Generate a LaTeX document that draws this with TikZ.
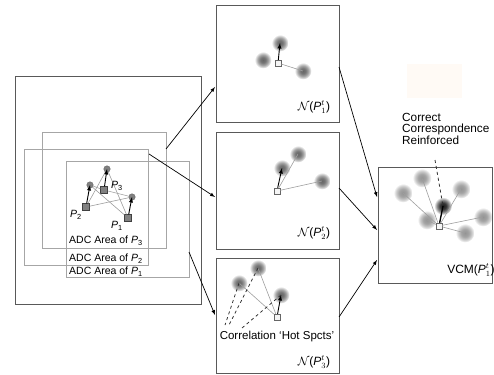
\documentclass[tikz,border=0pt]{standalone}
\usepackage{fontspec}
\setmainfont{Liberation Sans}
\usepackage{amsmath}
\usepackage{amssymb}
\usetikzlibrary{positioning}
\pgfdeclareradialshading{blobshade}{\pgfpoint{0bp}{0bp}}{color(0bp)=(black!60); color(8bp)=(black!54); color(16bp)=(black!34); color(25bp)=(white)}
\pgfdeclareradialshading{lightshade}{\pgfpoint{0bp}{0bp}}{color(0bp)=(black!42); color(10bp)=(black!36); color(18bp)=(black!20); color(25bp)=(white)}
\pgfdeclareradialshading{hotshade}{\pgfpoint{0bp}{0bp}}{color(0bp)=(black!90); color(9bp)=(black!78); color(17bp)=(black!45); color(25bp)=(white)}

\begin{document}
\begin{tikzpicture}[x=1pt,y=-1pt]
\tikzstyle{every node}+=[inner sep=0pt]
\tikzstyle{panel}=[draw=black!65, line width=0.9pt]
\tikzstyle{area}=[draw=black!35, line width=0.7pt]
\tikzstyle{blob}=[circle, minimum size=17pt, shading=blobshade, shade]
\tikzstyle{lightblob}=[circle, minimum size=19pt, shading=lightshade, shade]
\tikzstyle{hotblob}=[circle, minimum size=18pt, shading=hotshade, shade]
\tikzstyle{pt}=[rectangle, draw=black!75, fill=black!50, minimum size=7pt]
\tikzstyle{ft}=[circle, draw=black!60, fill=black!50, minimum size=6.5pt]
\tikzstyle{loc}=[rectangle, draw=black!60, fill=black!4, minimum size=6pt]
\tikzstyle{match}=[black, line width=0.9pt, -latex]
\tikzstyle{cand}=[black!38, line width=0.6pt]
\tikzstyle{hot}=[black!80, dashed, line width=0.8pt]
\tikzstyle{flow}=[black, line width=0.7pt, -latex]
\tikzstyle{lbl}=[font=\fontsize{10.5}{11.5}\selectfont]
\tikzstyle{biglbl}=[font=\fontsize{12}{11.5}\selectfont]
\useasboundingbox (0,0) rectangle (494,374);
\fill [orange!4] (407,64) rectangle (462,98);
% frame with the ADC areas
\draw [panel] (15,76) rectangle (201,304);
\draw [area] (42,132) rectangle (166,248);
\draw [area] (24,149) rectangle (148,265);
\draw [area] (66,161) rectangle (189,277);
\node [lbl, anchor=west] (a3) at (69,241) {ADC Area of \textit{P}\textsubscript{3}};
\node [lbl, anchor=west] (a2) at (69,259) {ADC Area of \textit{P}\textsubscript{2}};
\node [lbl, anchor=west] (a1) at (69,272) {ADC Area of \textit{P}\textsubscript{1}};
\node [ft] (c3) at (107,169) {};
\node [ft] (c2) at (90,185) {};
\node [ft] (c1) at (132,197) {};
\node [pt] (p3) at (104,190) {};
\node [pt] (p2) at (86,207) {};
\node [pt] (p1) at (128,218) {};
\draw [cand] (p3) -- (c2);
\draw [cand] (p3) -- (c1);
\draw [cand] (p2) -- (c3);
\draw [cand] (p2) -- (c1);
\draw [cand] (p1) -- (c3);
\draw [cand] (p1) -- (c2);
\draw [match] (p3) -- (c3.center);
\draw [match] (p2) -- (c2.center);
\draw [match] (p1) -- (c1.center);
\node [lbl] (l3) at (117,186) {\textit{P}\textsubscript{3}};
\node [lbl] (l2) at (76,215) {\textit{P}\textsubscript{2}};
\node [lbl] (l1) at (117,226) {\textit{P}\textsubscript{1}};
% neighbourhoods
\draw [panel] (216,5) rectangle (339,122);
\draw [panel] (216,132) rectangle (339,249);
\draw [panel] (216,258) rectangle (339,373);
\node [blob] (u1) at (280,43) {};
\node [blob] (u2) at (263,60) {};
\node [blob] (u3) at (303,71) {};
\node [loc] (s1) at (278,63) {};
\draw [cand] (s1) -- (u3.center);
\draw [match] (s1) -- (u1.center);
\node [biglbl] (n1) at (314,107) {$\mathcal{N}$(\textit{P}$^t_1$)};
\node [blob] (v1) at (282,168) {};
\node [blob] (v2) at (298,154) {};
\node [blob] (v3) at (322,181) {};
\node [loc] (s2) at (277,191) {};
\draw [cand] (s2) -- (v2.center);
\draw [cand] (s2) -- (v3.center);
\draw [match] (s2) -- (v1.center);
\node [biglbl] (n2) at (314,233) {$\mathcal{N}$(\textit{P}$^t_2$)};
\node [blob] (w1) at (239,283) {};
\node [blob] (w2) at (258,268) {};
\node [blob] (w3) at (281,295) {};
\node [loc] (s3) at (277,317) {};
\draw [cand] (s3) -- (w1.center);
\draw [cand] (s3) -- (w2.center);
\draw [match] (s3) -- (w3.center);
\coordinate (h1) at (225,325);
\coordinate (h2) at (229,325);
\coordinate (h3) at (242,328);
\draw [hot] (w1.center) -- (h1);
\draw [hot] (w2.center) -- (h2);
\draw [hot] (w3.center) -- (h3);
\node [font=\fontsize{11.5}{12}\selectfont] (hs) at (277,337) {Correlation `Hot Spcts'};
\node [biglbl] (n3) at (314,362) {$\mathcal{N}$(\textit{P}$^t_3$)};
% voting map
\draw [panel] (378,167) rectangle (492,283);
\node [lightblob] (r1) at (422,178) {};
\node [lightblob] (r2) at (403,193) {};
\node [lightblob] (r3) at (461,189) {};
\node [lightblob] (r4) at (427,220) {};
\node [lightblob] (r5) at (483,217) {};
\node [lightblob] (r6) at (465,233) {};
\node [hotblob] (r0) at (443,206) {};
\node [loc] (s0) at (439,226) {};
\foreach \r in {r1,r2,r3,r4,r5,r6}
  \draw [cand] (s0) -- (\r.center);
\draw [black, line width=1.3pt] (s0) -- (r0.center);
\coordinate (cc) at (435,160);
\draw [hot] (cc) -- (r0.center);
\node [font=\fontsize{11.8}{11.5}\selectfont, align=left, anchor=north west] (cr) at (402,113) {Correct\\Correspondence\\Reinforced};
\node [biglbl] (vc) at (471,270) {VCM(\textit{P}$^t_1$)};
% arrows
\coordinate (f1) at (166,149);
\coordinate (f2) at (149,154);
\coordinate (f3) at (189,252);
\coordinate (t1) at (215,87);
\coordinate (t2) at (215,197);
\coordinate (t3) at (215,315);
\draw [flow] (f1) -- (t1);
\draw [flow] (f2) -- (t2);
\draw [flow] (f3) -- (t3);
\coordinate (g1) at (339,67);
\coordinate (g2) at (339,188);
\coordinate (g3) at (339,317);
\coordinate (k1) at (377,197);
\coordinate (k2) at (377,230);
\coordinate (k3) at (377,260);
\draw [flow] (g1) -- (k1);
\draw [flow] (g2) -- (k2);
\draw [flow] (g3) -- (k3);
\end{tikzpicture}
\end{document}
